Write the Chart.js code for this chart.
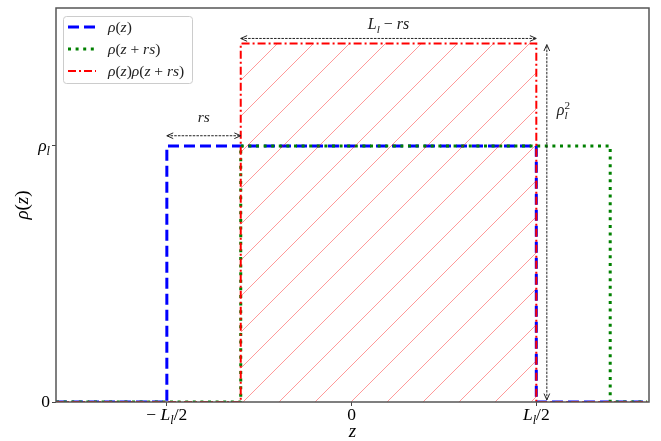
<!DOCTYPE html>
<html>
<head>
<meta charset="utf-8">
<script src="https://cdn.jsdelivr.net/npm/chart.js@4.4.1/dist/chart.umd.min.js"></script>
<style>
html, body { margin: 0; padding: 0; background: #fff; }
</style>
</head>
<body>
<canvas id="chart" width="661" height="441"></canvas>
<script>
// step edges, with L_l = 2 and rs = 0.4
const zRho = [-1.6, -1, -1, 1, 1, 1.6];
const rhoValues = [0, 0, 1, 1, 0, 0];
const zRhoShift = [-1.6, -0.6, -0.6, 1.4, 1.4, 1.6];
const rhoShiftValues = [0, 0, 1, 1, 0, 0];
const zProduct = [-1.6, -0.6, -0.6, 1, 1, 1.6];
const productValues = [0, 0, 1.4, 1.4, 0, 0];

const seriesLabels = ['ρ(z)', 'ρ(z + rs)', 'ρ(z)ρ(z + rs)'];
const xTicks = [-1, 0, 1];
const xTickLabels = ['− L_l/2', '0', 'L_l/2'];
const yTicks = [0, 1];
const yTickLabels = ['0', 'ρ_l'];

const FONT = '"Liberation Serif", "Times New Roman", serif';

// split "ρ_l^2" style strings into glyph parts (pos 1 = subscript, -1 = superscript)
function mathParts(str) {
    const parts = [];
    for (let i = 0; i < str.length; i++) {
        let c = str[i], pos = 0;
        if ((c === '_' || c === '^') && i + 1 < str.length) {
            pos = c === '_' ? 1 : -1;
            c = str[++i];
        }
        parts.push({ c, pos });
    }
    return parts;
}

function partFont(p, size) {
    const s = p.pos ? size * 0.7 : size;
    const italic = /[A-Za-zα-ω]/.test(p.c) ? 'italic ' : '';
    return italic + s + 'px ' + FONT;
}

function drawMath(ctx, str, x, y, size, align) {
    const parts = mathParts(str);
    let w = 0, prev = null;
    parts.forEach(p => {
        ctx.font = partFont(p, size);
        p.w = ctx.measureText(p.c).width;
        // superscript stacked over a subscript
        p.stack = prev && prev.pos === 1 && p.pos === -1;
        w += p.stack ? Math.max(0, p.w - prev.w) : p.w;
        prev = p;
    });
    let cx = align === 'center' ? x - w / 2 : align === 'right' ? x - w : x;
    ctx.textAlign = 'left';
    ctx.textBaseline = 'alphabetic';
    prev = null;
    parts.forEach(p => {
        ctx.font = partFont(p, size);
        if (p.stack) cx -= prev.w;
        const dy = p.pos === 1 ? size * 0.25 : p.pos === -1 ? -size * 0.42 : 0;
        ctx.fillText(p.c, cx, y + dy);
        cx += p.w;
        prev = p;
    });
}

function arrowHead(ctx, x, y, ang) {
    const len = 7, spread = 0.42;
    ctx.setLineDash([]);
    ctx.beginPath();
    ctx.moveTo(x - len * Math.cos(ang - spread), y - len * Math.sin(ang - spread));
    ctx.lineTo(x, y);
    ctx.lineTo(x - len * Math.cos(ang + spread), y - len * Math.sin(ang + spread));
    ctx.stroke();
}

function doubleArrow(ctx, x1, y1, x2, y2) {
    const ang = Math.atan2(y2 - y1, x2 - x1);
    ctx.save();
    ctx.strokeStyle = '#222';
    ctx.lineWidth = 1;
    ctx.setLineDash([2.5, 1.2]);
    ctx.beginPath();
    ctx.moveTo(x1, y1);
    ctx.lineTo(x2, y2);
    ctx.stroke();
    arrowHead(ctx, x2, y2, ang);
    arrowHead(ctx, x1, y1, ang + Math.PI);
    ctx.restore();
}

function makeHatch() {
    const size = 36;
    const c = document.createElement('canvas');
    c.width = size;
    c.height = size;
    const g = c.getContext('2d');
    g.strokeStyle = 'rgba(255, 0, 0, 0.5)';
    g.lineWidth = 0.8;
    g.beginPath();
    g.moveTo(-2, size + 2); g.lineTo(size + 2, -2);
    g.moveTo(-2, 2); g.lineTo(2, -2);
    g.moveTo(size - 2, size + 2); g.lineTo(size + 2, size - 2);
    g.stroke();
    const p = g.createPattern(c, 'repeat');
    p.setTransform(new DOMMatrix().translate(33, 0));
    return p;
}

const toPoints = (xs, ys) => xs.map((x, i) => ({ x: x, y: ys[i] }));

const styles = [
    { color: '#0000ff', width: 3, dash: [11, 5] },
    { color: '#008000', width: 3, dash: [3, 4.6] },
    { color: '#ff0000', width: 2, dash: [8, 3, 2, 3] }
];

const extras = {
    id: 'extras',
    afterDatasetsDraw(chart) {
        const { ctx, chartArea: a, scales: { x, y } } = chart;
        ctx.save();

        // frame on top of the lines
        ctx.strokeStyle = '#555';
        ctx.lineWidth = 1.5;
        ctx.strokeRect(a.left, a.top, a.right - a.left, a.bottom - a.top);

        // annotations
        const yRs = y.getPixelForValue(1.04);
        doubleArrow(ctx, x.getPixelForValue(zRho[1]), yRs, x.getPixelForValue(zRhoShift[1]), yRs);
        ctx.fillStyle = '#222';
        drawMath(ctx, 'rs', x.getPixelForValue((zRho[1] + zRhoShift[1]) / 2), yRs - 14, 15.5, 'center');

        const yL = y.getPixelForValue(1.42);
        doubleArrow(ctx, x.getPixelForValue(zProduct[1]), yL, x.getPixelForValue(zProduct[3]), yL);
        drawMath(ctx, 'L_l − rs', x.getPixelForValue((zProduct[1] + zProduct[3]) / 2), yL - 9, 16, 'center');

        const xA = x.getPixelForValue(1.057);
        doubleArrow(ctx, xA, y.getPixelForValue(0.008), xA, y.getPixelForValue(productValues[2]) + 1);
        drawMath(ctx, 'ρ_l^2', xA + 10, y.getPixelForValue(1.12), 16, 'left');

        // tick labels
        ctx.fillStyle = '#000';
        xTicks.forEach((v, i) => drawMath(ctx, xTickLabels[i], x.getPixelForValue(v), a.bottom + 18, 17.5, 'center'));
        yTicks.forEach((v, i) => drawMath(ctx, yTickLabels[i], a.left - 6, y.getPixelForValue(v) + 5, 17.5, 'right'));

        // axis titles
        drawMath(ctx, 'z', (a.left + a.right) / 2, 437, 19, 'center');
        ctx.save();
        ctx.translate(28, (a.top + a.bottom) / 2);
        ctx.rotate(-Math.PI / 2);
        drawMath(ctx, 'ρ(z)', 0, 0, 19, 'center');
        ctx.restore();

        // legend
        ctx.fillStyle = 'rgba(255, 255, 255, 0.85)';
        ctx.strokeStyle = '#ccc';
        ctx.lineWidth = 1;
        ctx.beginPath();
        ctx.roundRect(63.5, 16.5, 129, 67, 3);
        ctx.fill();
        ctx.stroke();
        seriesLabels.forEach((label, i) => {
            const ly = 27 + i * 22;
            const s = styles[i];
            ctx.strokeStyle = s.color;
            ctx.lineWidth = s.width;
            ctx.setLineDash(s.dash);
            ctx.beginPath();
            ctx.moveTo(68, ly);
            ctx.lineTo(96, ly);
            ctx.stroke();
            ctx.setLineDash([]);
            ctx.fillStyle = '#222';
            drawMath(ctx, label, 108, ly + 5, 15.5, 'left');
        });
        ctx.restore();
    }
};

const tickGrid = { drawOnChartArea: false, drawTicks: true, tickLength: 4, color: '#444' };

new Chart(document.getElementById('chart'), {
    type: 'scatter',
    data: {
        datasets: [
            {
                label: seriesLabels[0],
                data: toPoints(zRho, rhoValues),
                showLine: true, fill: false, pointRadius: 0,
                borderColor: styles[0].color, borderWidth: styles[0].width, borderDash: styles[0].dash,
                order: 3
            },
            {
                label: seriesLabels[1],
                data: toPoints(zRhoShift, rhoShiftValues),
                showLine: true, fill: false, pointRadius: 0,
                borderColor: styles[1].color, borderWidth: styles[1].width, borderDash: styles[1].dash,
                order: 2
            },
            {
                label: seriesLabels[2],
                data: toPoints(zProduct, productValues),
                showLine: true, fill: 'origin', pointRadius: 0,
                backgroundColor: makeHatch(),
                borderColor: styles[2].color, borderWidth: styles[2].width, borderDash: styles[2].dash,
                order: 1
            }
        ]
    },
    options: {
        responsive: false,
        animation: false,
        layout: { padding: { top: 8, right: 12, left: 0, bottom: 0 } },
        plugins: { legend: { display: false }, tooltip: { enabled: false } },
        scales: {
            x: {
                type: 'linear', min: -1.6, max: 1.61,
                afterBuildTicks: s => { s.ticks = xTicks.map(v => ({ value: v })); },
                afterFit: s => { s.height = 39; },
                ticks: { display: false },
                grid: tickGrid,
                border: { display: false }
            },
            y: {
                type: 'linear', min: 0, max: 1.539,
                afterBuildTicks: s => { s.ticks = yTicks.map(v => ({ value: v })); },
                afterFit: s => { s.width = 56; },
                ticks: { display: false },
                grid: tickGrid,
                border: { display: false }
            }
        }
    },
    plugins: [extras]
});
</script>
</body>
</html>
